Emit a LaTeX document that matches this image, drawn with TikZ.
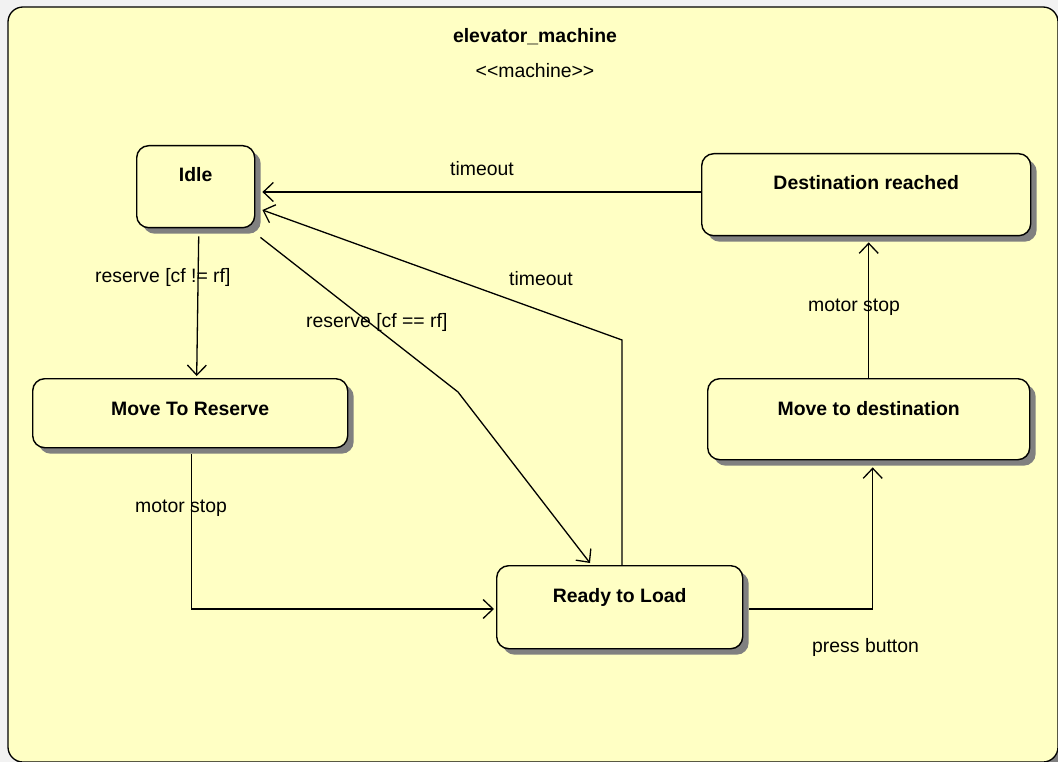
\documentclass[tikz,border=0pt]{standalone}
\usepackage{fontspec}
\setmainfont{Liberation Sans}
\usetikzlibrary{arrows.meta,shadows,calc}
\definecolor{pagebg}{HTML}{F2F2F2}
\definecolor{stfill}{HTML}{FFFFC4}
\definecolor{shgray}{HTML}{808080}
\tikzset{
  stbox/.style={draw=black, line width=1.4pt, fill=stfill, rounded corners=12pt,
    anchor=north west, inner sep=0pt,
    drop shadow={shadow xshift=6pt, shadow yshift=-6pt, fill=shgray, opacity=1}},
  sttext/.style={font=\fontsize{19.4}{23}\selectfont\bfseries, anchor=base, inner sep=0pt},
  lab/.style={font=\fontsize{19.4}{23}\selectfont, anchor=base west, inner sep=0pt},
  arr/.style={line width=1.3pt, -{Straight Barb[length=10pt, width=19pt, line width=1.3pt]}},
}
\begin{document}
\begin{tikzpicture}[x=1pt, y=-1pt]
\useasboundingbox (0,0) rectangle (1058,762);
\clip (0,0) rectangle (1058,762);
\fill[pagebg] (0,0) rectangle (1058,762);
% machine frame
\fill[shgray, rounded corners=15pt] (14,13) rectangle (1064,768);
\draw[line width=1.3pt, fill=stfill, rounded corners=15pt] (8,7) rectangle (1058,762);
\node[sttext, anchor=base] (title) at (535,43) {elevator\_machine};
\node[lab, anchor=base] (stereo) at (535,78) {\textless\kern0pt\textless\kern0pt machine\kern0pt\textgreater\kern0pt\textgreater};

% states
\node[stbox, minimum width=118pt, minimum height=82pt] (idle) at (136,145) {};
\node[stbox, minimum width=329pt, minimum height=82pt] (dest) at (701,153) {};
\node[stbox, minimum width=315pt, minimum height=69pt] (mtr) at (32,378) {};
\node[stbox, minimum width=322pt, minimum height=81pt] (mtd) at (707,378) {};
\node[stbox, minimum width=246pt, minimum height=83pt] (ready) at (496,565) {};

\node[sttext] (idleT) at ($(idle.north)+(0,37)$) {Idle};
\node[sttext] (destT) at ($(dest.north)+(0,37)$) {Destination reached};
\node[sttext] (mtrT) at ($(mtr.north)+(0,37)$) {Move To Reserve};
\node[sttext] (mtdT) at ($(mtd.north)+(0,37)$) {Move to destination};
\node[sttext] (readyT) at ($(ready.north)+(0,37)$) {Ready to Load};

% transitions
\draw[arr] ($(dest.north west)+(0,39)$) -- ($(idle.north east)+(7,47)$);
\node[lab] (l1) at (450,176) {timeout};

\coordinate (b2) at ($(ready.north west)+(126,-225)$);
\draw[arr] ($(ready.north west)+(126,0)$) -- (b2) -- ($(idle.north east)+(7,65)$);
\node[lab] (l2) at (509,286) {timeout};

\coordinate (b3) at (458,392);
\draw[arr] ($(idle.south east)+(5,9)$) -- (b3) -- ($(ready.north west)+(94,-2)$);
\node[lab] (l3) at (306,327) {reserve [cf == rf]};

\draw[arr] ($(idle.south)+(3,8)$) -- ($(mtr.north)+(6.5,-2)$);
\node[lab] (l4) at (95,283) {reserve [cf != rf]};

\draw[arr] ($(mtr.south)+(1.5,6)$) |- ($(ready.north west)+(-2,44)$);
\node[lab] (l5) at (135,512) {motor stop};

\draw[arr] ($(ready.north east)+(6,44)$) -| ($(mtd.south)+(4,7)$);
\node[lab] (l6) at (812,652) {press button};

\draw[arr] (mtd.north) -- ($(mtd.north |- dest.south)+(0,6)$);
\node[lab] (l7) at (808,311) {motor stop};
\end{tikzpicture}
\end{document}
